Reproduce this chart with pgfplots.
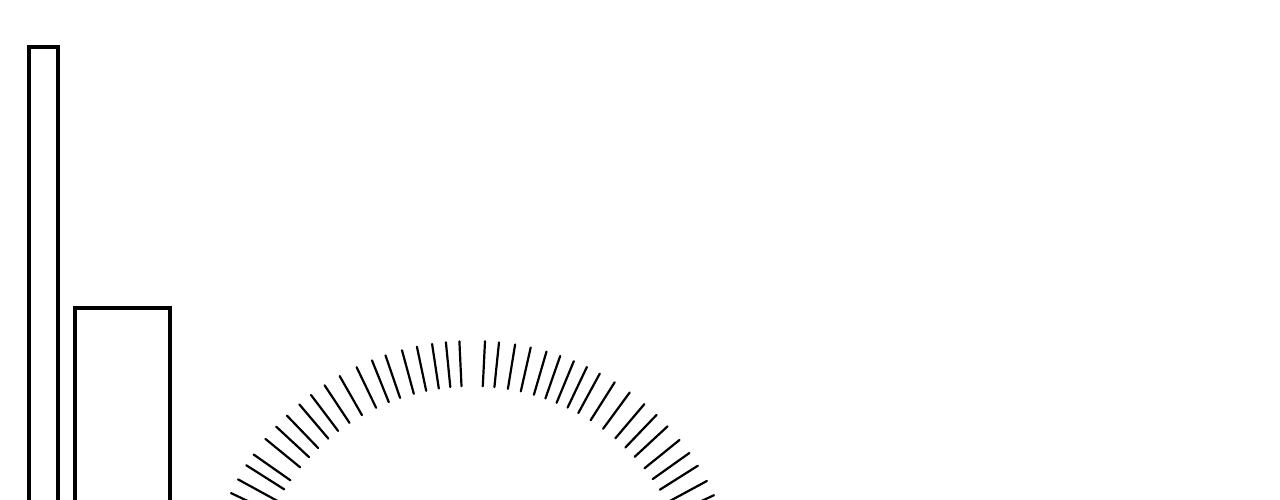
\documentclass[border=0pt]{standalone}
\usepackage{pgfplots}
\pgfplotsset{compat=1.18}
\begin{document}
\begin{tikzpicture}
\begin{axis}[
  x=0.1mm, y=0.1mm,
  xmin=0, xmax=1280, ymin=0, ymax=500,
  ticks=none,
  axis line style={draw=none},
  clip=true,
]
% bars (outlines, extending below the visible area)
\addplot[black, line width=0.4mm, sharp plot, mark=none] coordinates {(29,-30) (29,453) (58,453) (58,-30)};
\addplot[black, line width=0.4mm, sharp plot, mark=none] coordinates {(75,-30) (75,192) (170,192) (170,-30)};
% radial ticks (inner end, outer end), one segment each
\addplot[black, line width=0.22mm, line cap=round, mark=none] table[row sep=\\] {
x y\\
461.5 113.8\\ 459.4 158.7\\ \\
450.3 112.9\\ 445.9 157.7\\ \\
438.8 111.5\\ 432.1 156.0\\ \\
426.2 109.2\\ 416.9 153.3\\ \\
413.8 106.2\\ 402.0 149.7\\ \\
400.1 102.0\\ 385.5 144.6\\ \\
388.8 97.8\\ 372.0 139.6\\ \\
376.1 92.2\\ 356.6 132.8\\ \\
362.0 84.8\\ 339.7 123.9\\ \\
349.5 77.1\\ 324.6 114.7\\ \\
338.1 69.1\\ 311.0 105.0\\ \\
328.4 61.3\\ 299.3 95.6\\ \\
318.1 52.0\\ 286.9 84.4\\ \\
309.1 42.8\\ 276.1 73.4\\ \\
300.2 32.6\\ 265.4 61.1\\ \\
290.4 19.7\\ 253.6 45.5\\ \\
284.3 10.6\\ 246.3 34.7\\ \\
277.5 -1.0\\ 238.0 20.6\\ \\
271.6 -12.4\\ 231.0 6.9\\ \\
482.8 113.7\\ 485.0 158.7\\ \\
494.4 112.9\\ 499.0 157.6\\ \\
507.9 111.1\\ 515.1 155.5\\ \\
520.8 108.6\\ 530.7 152.5\\ \\
533.9 105.2\\ 546.5 148.4\\ \\
545.4 101.5\\ 560.2 144.0\\ \\
556.6 97.2\\ 573.8 138.8\\ \\
567.6 92.4\\ 586.9 133.0\\ \\
578.3 86.9\\ 599.8 126.4\\ \\
590.6 79.7\\ 614.7 117.7\\ \\
603.1 71.2\\ 629.7 107.5\\ \\
615.3 61.6\\ 644.4 95.9\\ \\
625.4 52.5\\ 656.5 85.0\\ \\
634.6 43.1\\ 667.6 73.7\\ \\
644.5 31.7\\ 679.5 60.0\\ \\
652.7 20.9\\ 689.4 47.0\\ \\
659.9 10.3\\ 697.9 34.3\\ \\
667.3 -2.4\\ 706.9 19.0\\ \\
673.2 -14.2\\ 714.0 4.8\\
};
\end{axis}
\end{tikzpicture}
\end{document}
